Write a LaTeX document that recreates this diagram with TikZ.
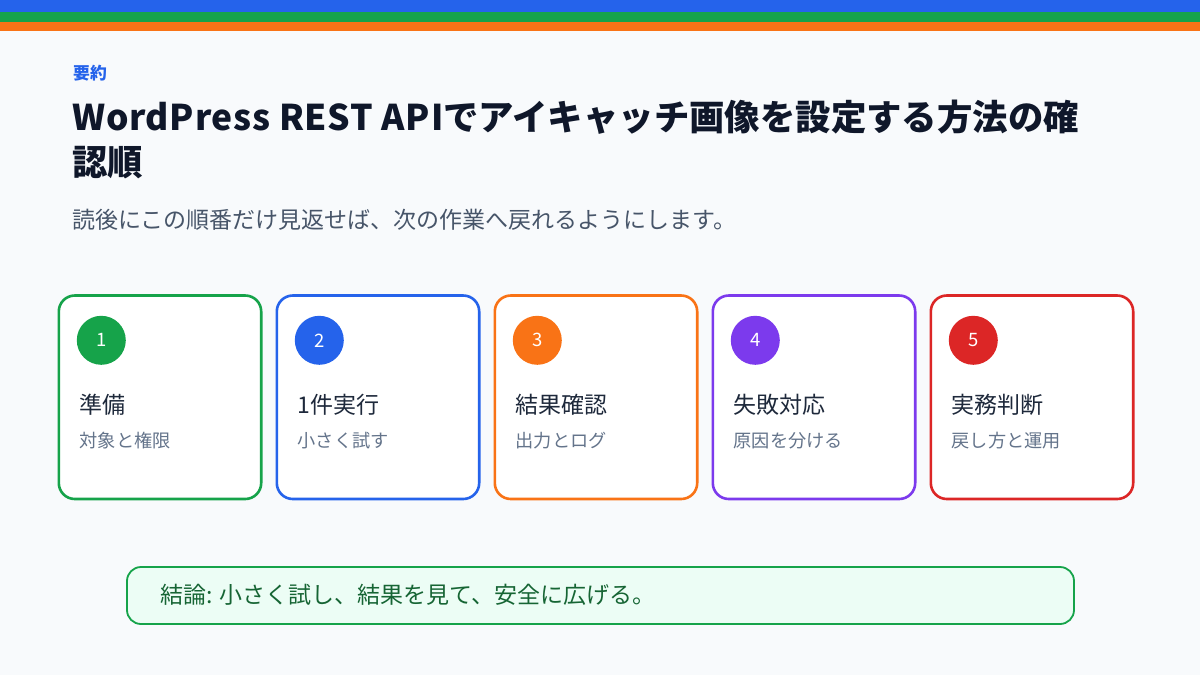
\documentclass[tikz,border=0pt]{standalone}
\usepackage{fontspec}
\setmainfont{Noto Sans CJK JP}
\definecolor{bgc}{HTML}{F8FAFC}
\definecolor{cblue}{HTML}{2563EB}
\definecolor{cgreen}{HTML}{16A34A}
\definecolor{corange}{HTML}{F97316}
\definecolor{cpurple}{HTML}{7C3AED}
\definecolor{cred}{HTML}{DC2626}
\definecolor{tdark}{HTML}{0F172A}
\definecolor{tcard}{HTML}{1E293B}
\definecolor{tsub}{HTML}{64748B}
\definecolor{tsubt}{HTML}{475569}
\definecolor{concfill}{HTML}{ECFDF5}
\definecolor{conctext}{HTML}{166534}
\tikzset{
  cardbox/.style={draw=#1, line width=2.6pt, fill=white, rounded corners=16pt},
  numdot/.style={circle, fill=#1, minimum size=49pt, inner sep=0pt, text=white, font=\fontsize{18.5}{20}\selectfont},
  cardtitle/.style={anchor=base west, inner sep=0pt, text=tcard, font=\fontsize{23}{26}\selectfont},
  cardsub/.style={anchor=base west, inner sep=0pt, text=tsub, font=\fontsize{18.2}{20}\selectfont},
  titletext/.style={anchor=base west, inner sep=0pt, text=tdark, font=\fontsize{35.4}{40}\selectfont\bfseries},
}
\begin{document}
\begin{tikzpicture}[x=1pt,y=-1pt]
\useasboundingbox (0,0) rectangle (1200,675);
\fill[bgc] (0,0) rectangle (1200,675);
\fill[cblue] (0,0) rectangle (1200,12);
\fill[cgreen] (0,12) rectangle (1200,21.7);
\fill[corange] (0,21.7) rectangle (1200,30.7);

\node[anchor=base west, inner sep=0pt, text=cblue, font=\fontsize{16.8}{19}\selectfont\bfseries] (kicker) at (73,79) {要約};
\node[titletext] (title1) at (72,130) {{\addfontfeature{LetterSpace=2}WordPress REST API}でアイキャッチ画像を設定する方法の確};
\node[titletext] (title2) at (72,175) {認順};
\node[anchor=base west, inner sep=0pt, text=tsubt, font=\fontsize{23}{26}\selectfont] (subtitle) at (72,228) {読後にこの順番だけ見返せば、次の作業へ戻れるようにします。};

\foreach \i/\x/\c/\t/\s in {1/58/cgreen/準備/対象と権限, 2/276/cblue/1件実行/小さく試す, 3/494/corange/結果確認/出力とログ, 4/712/cpurple/失敗対応/原因を分ける, 5/930/cred/実務判断/戻し方と運用}{
  \draw[cardbox=\c] (\x+0.8,295.5) rectangle (\x+203.2,499) coordinate (card\i);
  \node[numdot=\c] (num\i) at (\x+43.3,340.3) {\i};
  \node[cardtitle] (ct\i) at (\x+21.5,413.5) {\t};
  \node[cardsub] (cs\i) at (\x+21.5,447.5) {\s};
}

\draw[draw=cgreen, line width=1.8pt, fill=concfill, rounded corners=14pt] (127,567) rectangle (1074,624);
\node[anchor=base west, inner sep=0pt, text=conctext, font=\fontsize{23}{26}\selectfont] (concl) at (160,603.5) {結論: 小さく試し、結果を見て、安全に広げる。};
\end{tikzpicture}
\end{document}
